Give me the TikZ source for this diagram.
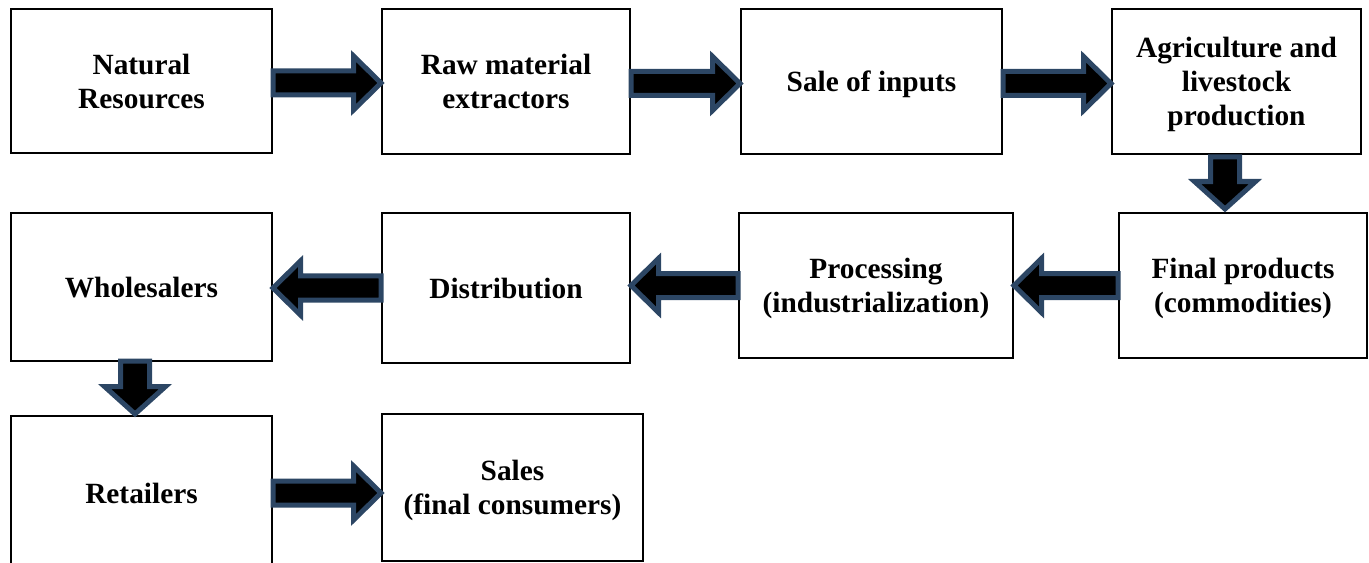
\documentclass[tikz,border=0pt]{standalone}
\usepackage{fontspec}
\setmainfont{Liberation Serif}
\usetikzlibrary{positioning, calc}
\definecolor{arrowblue}{RGB}{44,70,100}

\begin{document}
\begin{tikzpicture}[
    box/.style={draw, line width=0.04cm, align=center, inner sep=0pt,
    font=\fontsize{16.7}{19.3}\selectfont\bfseries, text depth=-0.12cm,
    minimum width=#1},
    box/.default=5.22cm,
    flow/.style={draw=arrowblue, fill=black, line width=0.1cm, miter limit=3,
    to path={let \p1=(\tikztostart), \p2=(\tikztotarget), \n1={sign(\x2-\x1)} in
      (\x1,\y1+0.24cm) -- (\x2-\n1*0.55cm,\y1+0.24cm) -- (\x2-\n1*0.55cm,\y1+0.54cm)
      -- (\x2,\y1) -- (\x2-\n1*0.55cm,\y1-0.54cm) -- (\x2-\n1*0.55cm,\y1-0.24cm)
      -- (\x1,\y1-0.24cm) -- cycle}},
    flowdown/.style={draw=arrowblue, fill=black, line width=0.1cm, miter limit=3,
    to path={let \p1=(\tikztostart), \p2=(\tikztotarget) in
      (\x1-0.29cm,\y1) -- (\x1-0.29cm,\y2+0.55cm) -- (\x1-0.61cm,\y2+0.55cm)
      -- (\x1,\y2) -- (\x1+0.61cm,\y2+0.55cm) -- (\x1+0.29cm,\y2+0.55cm)
      -- (\x1+0.29cm,\y1) -- cycle}}
    ]
    \useasboundingbox (0,0) rectangle (27.38,-11.26);
    \clip (0,0) rectangle (27.38,-11.26);

    % first row
    \node[box,        minimum height=2.88cm] (nat)  at (2.83,-1.62)  {Natural\\Resources};
    \node[box=4.96cm, minimum height=2.90cm] (raw)  at (10.12,-1.63) {Raw material\\extractors};
    \node[box,        minimum height=2.90cm] (inp)  at (17.43,-1.63) {Sale of inputs};
    \node[box=4.98cm, minimum height=2.90cm] (agr)  at (24.73,-1.63) {Agriculture and\\livestock\\production};

    % second row
    \node[box=4.96cm, minimum height=2.90cm] (fin)  at (24.86,-5.71) {Final products\\(commodities)};
    \node[box=5.48cm, minimum height=2.90cm] (proc) at (17.52,-5.71) {Processing\\(industrialization)};
    \node[box=4.96cm, minimum height=3.00cm] (dist) at (10.12,-5.76) {Distribution};
    \node[box,        minimum height=2.96cm] (whol) at (2.83,-5.74)  {Wholesalers};

    % third row
    \node[box,        minimum height=3.08cm] (ret)  at (2.83,-9.86)  {Retailers};
    \node[box,        minimum height=2.94cm] (sale) at (10.25,-9.75) {Sales\\(final consumers)};

    % block arrows
    \draw[flow] ([yshift=-0.04cm]nat.east) to ([yshift=-0.04cm]raw.west);
    \draw[flow] ([yshift=-0.04cm]raw.east) to ([yshift=-0.04cm]inp.west);
    \draw[flow] ([yshift=-0.04cm]inp.east) to ([yshift=-0.04cm]agr.west);
    \draw[flowdown] ([xshift=-0.23cm, yshift=-0.04cm]agr.south) to ([yshift=0.06cm]fin.north);
    \draw[flow] (fin.west) to (proc.east);
    \draw[flow] (proc.west) to (dist.east);
    \draw[flow] (dist.west) to (whol.east);
    \draw[flowdown] ([xshift=-0.13cm, yshift=0.02cm]whol.south) to ([yshift=0.02cm]ret.north);
    \draw[flow] (ret.east) to (sale.west);
\end{tikzpicture}
\end{document}
